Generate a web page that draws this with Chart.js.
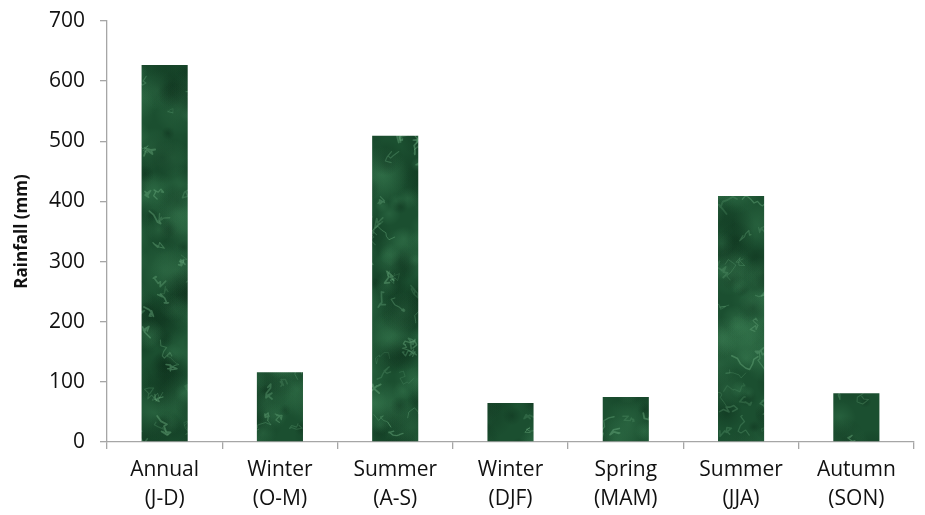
<!DOCTYPE html>
<html>
<head>
<meta charset="utf-8">
<script src="https://cdn.jsdelivr.net/npm/chart.js@4"></script>
<style>
  html, body { margin: 0; padding: 0; background: #fff; }
  #wrap { width: 925px; height: 515px; }
</style>
</head>
<body>
<div id="wrap"><canvas id="myChart" width="925" height="515"></canvas></div>
<script>
// rainfall by period
const periods = [["Annual", "(J-D)"], ["Winter", "(O-M)"], ["Summer", "(A-S)"], ["Winter", "(DJF)"], ["Spring", "(MAM)"], ["Summer", "(JJA)"], ["Autumn", "(SON)"]];
const rainfall = [627, 116, 509, 65, 75, 409, 81];
const yTicks = [0, 100, 200, 300, 400, 500, 600, 700];

// soft green marble fill for the bars, one tile covering the whole canvas
function marble() {
  const c = document.createElement("canvas");
  c.width = 925; c.height = 515;
  const g = c.getContext("2d");
  let s = 11;
  const rnd = () => { s = (s * 16807) % 2147483647; return s / 2147483647; };
  g.fillStyle = "#1b4f30";
  g.fillRect(0, 0, c.width, c.height);
  for (let i = 0; i < 1400; i++) {
    const x = rnd() * c.width, y = rnd() * c.height, r = 6 + rnd() * 24;
    const dark = rnd() < 0.5;
    const grd = g.createRadialGradient(x, y, 0, x, y, r);
    grd.addColorStop(0, dark ? "rgba(8,36,20,0.32)" : "rgba(66,138,92,0.3)");
    grd.addColorStop(1, dark ? "rgba(8,36,20,0)" : "rgba(66,138,92,0)");
    g.fillStyle = grd;
    g.fillRect(x - r, y - r, r * 2, r * 2);
  }
  g.filter = "blur(0.6px)";
  g.lineCap = "round";
  g.lineJoin = "round";
  for (let i = 0; i < 700; i++) {
    let x = rnd() * c.width, y = rnd() * c.height;
    g.strokeStyle = "rgba(105,170,125," + (0.2 + rnd() * 0.3) + ")";
    g.lineWidth = 0.7 + rnd() * 1.2;
    g.beginPath();
    g.moveTo(x, y);
    for (let k = 0; k < 7; k++) {
      x += (rnd() - 0.5) * 12; y += (rnd() - 0.5) * 12;
      g.lineTo(x, y);
    }
    g.stroke();
  }
  g.filter = "none";
  return g.createPattern(c, "no-repeat");
}

const axisGrey = "#a6a6a6";
const font = { family: "'Open Sans', sans-serif", size: 21, lineHeight: 1.35 };

const data = {
  labels: periods,
  datasets: [{
    data: rainfall,
    backgroundColor: marble(),
    borderWidth: 0,
    barPercentage: 0.4,
    categoryPercentage: 1,
  }],
};

const config = {
  type: "bar",
  data,
  options: {
    responsive: false,
    animation: false,
    layout: { padding: { top: 21, right: 11, left: 0, bottom: 0 } },
    plugins: { legend: { display: false }, tooltip: { enabled: false } },
    scales: {
      x: {
        grid: { drawOnChartArea: false, drawTicks: true, tickLength: 7, color: axisGrey, lineWidth: 1.3 },
        border: { color: axisGrey, width: 1.3 },
        ticks: { color: "#111", font, padding: 7, maxRotation: 0 },
        afterFit: (s) => { s.height = 73; },
      },
      y: {
        min: 0, max: 700,
        afterBuildTicks: (s) => { s.ticks = yTicks.map((v) => ({ value: v })); },
        grid: { drawOnChartArea: false, drawTicks: true, tickLength: 7, color: axisGrey, lineWidth: 1.3 },
        border: { color: axisGrey, width: 1.3 },
        ticks: { color: "#111", font: { family: "'Open Sans', sans-serif", size: 21 }, padding: 15 },
        title: { display: true, text: "Rainfall (mm)", color: "#111", font: { family: "'Open Sans', sans-serif", size: 17, weight: "bold" }, padding: { top: 12, bottom: 0 } },
        afterFit: (s) => { s.width = 107; s.paddingTop = 0; s.paddingBottom = 0; },
      },
    },
  },
};

var myChart = new Chart(document.getElementById("myChart"), config);
</script>
</body>
</html>
